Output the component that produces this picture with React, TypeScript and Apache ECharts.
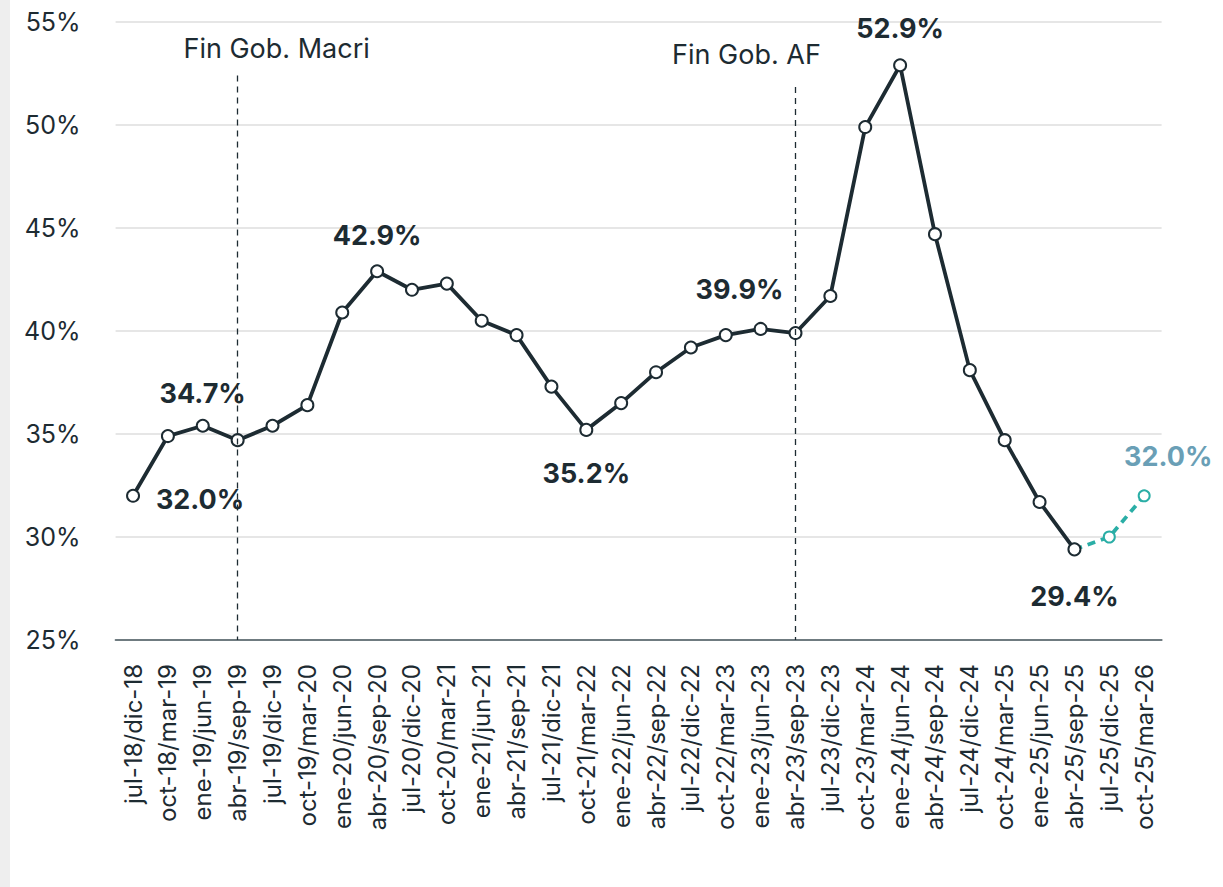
import React, { useEffect, useRef } from "react";
import * as echarts from "echarts";

const categories = [
  "jul-18/dic-18", "oct-18/mar-19", "ene-19/jun-19", "abr-19/sep-19", "jul-19/dic-19",
  "oct-19/mar-20", "ene-20/jun-20", "abr-20/sep-20", "jul-20/dic-20", "oct-20/mar-21",
  "ene-21/jun-21", "abr-21/sep-21", "jul-21/dic-21", "oct-21/mar-22", "ene-22/jun-22",
  "abr-22/sep-22", "jul-22/dic-22", "oct-22/mar-23", "ene-23/jun-23", "abr-23/sep-23",
  "jul-23/dic-23", "oct-23/mar-24", "ene-24/jun-24", "abr-24/sep-24", "jul-24/dic-24",
  "oct-24/mar-25", "ene-25/jun-25", "abr-25/sep-25", "jul-25/dic-25", "oct-25/mar-26",
];

// Observed poverty rate (%)
const observed: (number | null)[] = [
  32.0, 34.9, 35.4, 34.7, 35.4, 36.4, 40.9, 42.9, 42.0, 42.3,
  40.5, 39.8, 37.3, 35.2, 36.5, 38.0, 39.2, 39.8, 40.1, 39.9,
  41.7, 49.9, 52.9, 44.7, 38.1, 34.7, 31.7, 29.4, null, null,
];

// Projection (dashed)
const projection: (number | null)[] = [
  null, null, null, null, null, null, null, null, null, null,
  null, null, null, null, null, null, null, null, null, null,
  null, null, null, null, null, null, null, 29.4, 30.0, 32.0,
];

// Labelled points: index -> label offset
const labelledObserved: Record<number, [number, number]> = {
  0: [67, 4],
  3: [-35, -47],
  7: [0, -36],
  13: [0, 44],
  19: [-56, -44],
  22: [0, -37],
  27: [0, 47],
};
const labelledProjection: Record<number, [number, number]> = {
  29: [24, -39],
};

const yTicks = { min: 25, max: 55, interval: 5 };

const events = [
  { cat: "abr-19/sep-19", text: "Fin Gob. Macri", top: 52.4, offset: [39, -27] },
  { cat: "abr-23/sep-23", text: "Fin Gob. AF", top: 51.85, offset: [-49, -32] },
];

const DARK = "#1d2b32";
const TEAL = "#2aaea6";
const TEAL_LABEL = "#6a9fb6";
const FONT = "Inter, 'Open Sans', sans-serif";

export default function App() {
  const ref = useRef<HTMLDivElement>(null);

  useEffect(() => {
    if (!ref.current) return;
    const chart = echarts.init(ref.current, null, { renderer: "svg" });

    const mkLabel = (v: number, off: [number, number], color: string) => ({
      show: true,
      position: "inside",
      offset: off,
      formatter: v.toFixed(1) + "%",
      fontSize: 27,
      fontWeight: "bold",
      color,
      fontFamily: FONT,
    });

    const obsData = observed.map((v, i) => {
      const off = labelledObserved[i];
      if (off && v != null) return { value: v, label: mkLabel(v, off, DARK) };
      return v;
    });

    const projData = projection.map((v, i) => {
      const off = labelledProjection[i];
      if (off && v != null) return { value: v, label: mkLabel(v, off, TEAL_LABEL) };
      return v;
    });

    chart.setOption({
      animation: false,
      backgroundColor: "#ffffff",
      textStyle: { fontFamily: FONT },
      graphic: [
        {
          type: "rect",
          left: 0,
          top: 0,
          shape: { width: 10, height: 887 },
          style: { fill: "#eeeeee" },
          z: 0,
        },
      ],
      grid: { left: 115.6, right: 61.4, top: 22, bottom: 247, containLabel: false },
      xAxis: {
        type: "category",
        data: categories,
        boundaryGap: true,
        axisLine: { show: true, lineStyle: { color: "#6f7b80", width: 2 } },
        axisTick: { show: false },
        axisLabel: {
          rotate: 90,
          interval: 0,
          margin: 24,
          fontSize: 24,
          color: DARK,
          fontFamily: FONT,
        },
        splitLine: { show: false },
      },
      yAxis: {
        type: "value",
        min: yTicks.min,
        max: yTicks.max,
        interval: yTicks.interval,
        axisLine: { show: false },
        axisTick: { show: false },
        axisLabel: {
          formatter: "{value}%",
          fontSize: 25,
          color: DARK,
          margin: 35,
          fontFamily: FONT,
        },
        splitLine: { show: true, lineStyle: { color: "#e6e6e6", width: 2 } },
      },
      series: [
        {
          name: "Pobreza",
          type: "line",
          data: obsData,
          symbol: "circle",
          symbolSize: 12,
          lineStyle: { color: DARK, width: 3.8 },
          itemStyle: { color: "#ffffff", borderColor: DARK, borderWidth: 2 },
          label: { show: false },
          z: 3,
          markLine: {
            silent: true,
            symbol: ["none", "none"],
            lineStyle: { color: DARK, type: [6, 5], width: 1.3 },
            label: { show: false },
            data: events.map((e) => [
              { coord: [e.cat, e.top] },
              { coord: [e.cat, yTicks.min] },
            ]),
          },
          markPoint: {
            silent: true,
            symbol: "circle",
            symbolSize: 0,
            data: events.map((e) => ({
              coord: [e.cat, e.top],
              label: {
                show: true,
                position: "inside",
                offset: e.offset,
                formatter: e.text,
                fontSize: 27,
                color: DARK,
                fontFamily: FONT,
              },
            })),
          },
        },
        {
          name: "Proyección",
          type: "line",
          data: projData,
          symbol: "circle",
          symbolSize: 11,
          showSymbol: true,
          lineStyle: { color: TEAL, width: 3.8, type: [8, 6] },
          itemStyle: { color: "#ffffff", borderColor: TEAL, borderWidth: 2 },
          label: { show: false },
          z: 2,
        },
      ],
    });

    return () => chart.dispose();
  }, []);

  return (
    <div
      ref={ref}
      style={{ position: "fixed", left: 0, top: 0, width: 1223, height: 887 }}
    />
  );
}
